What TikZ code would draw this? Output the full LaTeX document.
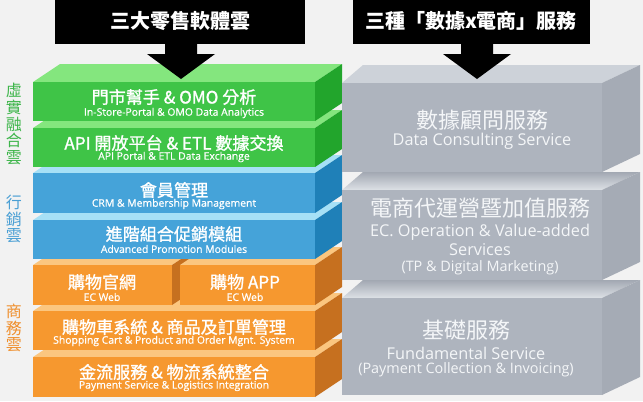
\documentclass[tikz,border=0pt]{standalone}
\usepackage{fontspec}
\setmainfont{Open Sans}
\newfontfamily\cjk{Noto Sans CJK TC}
\newfontfamily\cjkm{Noto Sans CJK TC}[FakeBold=1.2]
\newfontfamily\subf{Open Sans}[FakeBold=0.7]
\definecolor{bgcol}{HTML}{F2F2F2}
\definecolor{gfront}{HTML}{3FC447}
\definecolor{gtop}{HTML}{84E67E}
\definecolor{gside}{HTML}{22A52C}
\definecolor{bfront}{HTML}{45A3D9}
\definecolor{btop}{HTML}{A6E0F6}
\definecolor{bside}{HTML}{1F80B8}
\definecolor{ofront}{HTML}{F6982F}
\definecolor{otop}{HTML}{FBC67F}
\definecolor{oside}{HTML}{C6701F}
\definecolor{yfront}{HTML}{AEB4BE}
\definecolor{ytop}{HTML}{CDD2D9}
\definecolor{yside}{HTML}{A5ABB5}
\definecolor{ytopdark}{HTML}{A2A8B2}
\definecolor{ytoplight}{HTML}{DDE1E6}
\definecolor{ytext}{HTML}{F4F6F8}
\definecolor{lgreen}{HTML}{3DB54A}
\definecolor{lblue}{HTML}{4A9FD4}
\definecolor{lorange}{HTML}{EF8F2D}
% #1 x1, #2 x2, #3 ytop, #4 ybottom, #5 dx left, #6 dx right, #7 front, #8 top style, #9 side
\newcommand\drawcube[9]{%
  \path[#8] (#1,#3) -- (#1+#5,#3-18) -- (#2+#6,#3-18) -- (#2,#3) -- cycle;
  \fill[#9] (#2,#3) -- (#2+#6,#3-18) -- (#2+#6,#4-18) -- (#2,#4) -- cycle;
  \fill[#7] (#1,#3) rectangle (#2,#4);
}
\begin{document}
\begin{tikzpicture}[x=0.75pt,y=-0.75pt,
  every node/.style={inner sep=0pt, text=white},
  mainlbl/.style={font=\cjkm\fontsize{12.8}{14}\selectfont},
  sublbl/.style={font=\subf\fontsize{7.8}{9}\selectfont},
  graymain/.style={font=\cjk\fontsize{16.5}{18}\selectfont, text=ytext},
  graysub/.style={font=\fontsize{12.2}{14}\selectfont, text=ytext},
  graynote/.style={font=\fontsize{10.8}{13}\selectfont, text=ytext},
  headlbl/.style={font=\cjk\bfseries\fontsize{15}{17}\selectfont},
  sidelbl/.style={font=\cjk\fontsize{12}{12.4}\selectfont, align=center},
  headbox/.style={fill=black},
  arrowfill/.style={fill=black}]
\useasboundingbox (0,0) rectangle (643,401);
\fill[bgcol] (0,0) rectangle (643,401);

% ---- left stack (bottom to top)
\drawcube{33}{315}{357}{397}{27}{27}{ofront}{fill=otop}{oside}
\drawcube{33}{315}{311}{350}{27}{27}{ofront}{fill=otop}{oside}
\drawcube{33}{172}{265}{305}{27}{27}{ofront}{fill=otop}{oside}
\drawcube{180}{315}{265}{305}{27}{27}{ofront}{fill=otop}{oside}
\drawcube{33}{315}{220}{259}{27}{27}{bfront}{fill=btop}{bside}
\drawcube{33}{315}{173}{213}{27}{27}{bfront}{fill=btop}{bside}
\drawcube{33}{315}{128}{167}{27}{27}{gfront}{fill=gtop}{gside}
\drawcube{33}{315}{82}{121}{27}{27}{gfront}{fill=gtop}{gside}

% ---- right stack (bottom to top)
\drawcube{342}{602}{298}{395}{21}{38}{yfront}{top color=ytopdark,bottom color=ytoplight}{yside}
\drawcube{342}{602}{190}{280}{21}{38}{yfront}{top color=ytopdark,bottom color=ytoplight}{yside}
\drawcube{342}{602}{83}{172}{21}{38}{yfront}{fill=ytop}{yside}

% ---- headers
\fill[headbox] (55,0) rectangle (305,44);
\fill[headbox] (353,0) rectangle (590,44);
\node[headlbl] (h1) at (180,21) {三大零售軟體雲};
\node[headlbl] (h2) at (471,21) {三種「數據x電商」服務};
\fill[arrowfill] (165,43) -- (197,43) -- (197,54) -- (215,54) -- (181,79) -- (147,54) -- (165,54) -- cycle;
\fill[arrowfill] (461,43) -- (493,43) -- (493,54) -- (511,54) -- (477,79) -- (443,54) -- (461,54) -- cycle;

% ---- left texts
\node[mainlbl] (t1) at (174,97) {門市幫手 \& OMO 分析};
\node[sublbl] (s1) at (174,113) {In-Store-Portal \& OMO Data Analytics};
\node[mainlbl] (t2) at (174,143) {API 開放平台 \& ETL 數據交換};
\node[sublbl] (s2) at (174,157) {API Portal \& ETL Data Exchange};
\node[mainlbl] (t3) at (174,190) {會員管理};
\node[sublbl] (s3) at (174,204) {CRM \& Membership Management};
\node[mainlbl] (t4) at (174,234) {進階組合促銷模組};
\node[sublbl] (s4) at (174,249) {Advanced Promotion Modules};
\node[mainlbl] (t5a) at (102,282) {購物官網};
\node[sublbl] (s5a) at (102,297) {EC Web};
\node[mainlbl] (t5b) at (245,282) {購物 APP};
\node[sublbl] (s5b) at (245,297) {EC Web};
\node[mainlbl] (t6) at (174,327) {購物車系統 \& 商品及訂單管理};
\node[sublbl] (s6) at (174,341) {Shopping Cart \& Product and Order Mgnt. System};
\node[mainlbl] (t7) at (174,372) {金流服務 \& 物流系統整合};
\node[sublbl] (s7) at (174,386) {Payment Service \& Logistics Integration};

% ---- right texts
\node[graymain] (g1) at (482,120) {數據顧問服務};
\node[graysub] (g1s) at (482,141) {Data Consulting Service};
\node[graymain] (g2) at (480,208) {電商代運營暨加值服務};
\node[graysub] (g2s) at (480,232) {EC. Operation \& Value-added};
\node[graysub] (g2t) at (480,250) {Services};
\node[graynote] (g2u) at (480,268) {(TP \& Digital Marketing)};
\node[graymain] (g3) at (466,330) {基礎服務};
\node[graysub] (g3s) at (466,353) {Fundamental Service};
\node[graynote] (g3t) at (466,370) {(Payment Collection \& Invoicing)};

% ---- side labels
\node[sidelbl, text=lgreen] (l1) at (14,124) {虛\\實\\融\\合\\雲};
\node[sidelbl, text=lblue] (l2) at (14,219) {行\\銷\\雲};
\node[sidelbl, text=lorange] (l3) at (14,328) {商\\務\\雲};
\end{tikzpicture}
\end{document}
